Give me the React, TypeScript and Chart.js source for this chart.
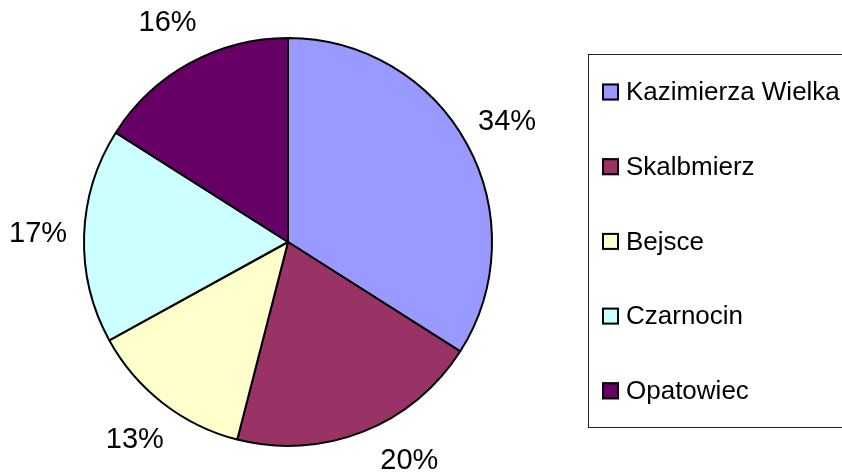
import React, { useEffect, useRef } from "react";
import { Chart, registerables } from "chart.js";

Chart.register(...registerables);

const categories = ["Kazimierza Wielka", "Skalbmierz", "Bejsce", "Czarnocin", "Opatowiec"];
const values = [34, 20, 13, 17, 16];
const colors = ["#9999FF", "#993366", "#FFFFCC", "#CCFFFF", "#660066"];

const W = 842;
const H = 473;
const FONT = "Arial, 'Liberation Sans', sans-serif";

const labelPlugin = {
  id: "outsideLabels",
  afterDatasetsDraw(chart: any) {
    const ctx = chart.ctx;
    const meta = chart.getDatasetMeta(0);
    const total = values.reduce((a, b) => a + b, 0);
    ctx.save();
    ctx.font = `29px ${FONT}`;
    ctx.fillStyle = "#000";
    ctx.textAlign = "center";
    ctx.textBaseline = "middle";
    meta.data.forEach((arc: any, i: number) => {
      const { x, y, startAngle, endAngle, outerRadius } = arc.getProps(
        ["x", "y", "startAngle", "endAngle", "outerRadius"],
        true
      );
      const text = Math.round((values[i] / total) * 100) + "%";
      const dist = outerRadius + 46;
      let a = (startAngle + endAngle) / 2;
      const halfH = 12;
      const halfW = ctx.measureText(text).width / 2;
      const fits = (ang: number) => {
        const lx = x + Math.cos(ang) * dist;
        const ly = y + Math.sin(ang) * dist;
        return ly - halfH >= 0 && ly + halfH <= chart.height && lx - halfW >= 0 && lx + halfW <= chart.width;
      };
      let guard = 0;
      while (!fits(a) && guard < 200) {
        const s = Math.sin(a);
        const c = Math.cos(a);
        const step = 0.005;
        a += s * c > 0 ? -step : step;
        guard++;
      }
      ctx.fillText(text, x + Math.cos(a) * dist, y + Math.sin(a) * dist);
    });
    ctx.restore();
  },
};

const legendPlugin = {
  id: "boxLegend",
  afterDraw(chart: any) {
    const ctx = chart.ctx;
    ctx.save();
    const left = 588.5;
    const top = 54.5;
    const bottom = 427.5;
    ctx.strokeStyle = "#222";
    ctx.lineWidth = 1;
    ctx.strokeRect(left, top, 400, bottom - top);
    ctx.font = `26px ${FONT}`;
    ctx.textBaseline = "middle";
    ctx.textAlign = "left";
    const step = 74.7;
    const first = 92;
    categories.forEach((name, i) => {
      const cy = first + i * step;
      ctx.fillStyle = colors[i];
      ctx.fillRect(602, cy - 8.5, 17, 17);
      ctx.strokeStyle = "#000";
      ctx.lineWidth = 2;
      ctx.strokeRect(603, cy - 7.5, 15, 15);
      ctx.fillStyle = "#000";
      ctx.fillText(name, 626, cy + 1);
    });
    ctx.restore();
  },
};

export default function App() {
  const ref = useRef<HTMLCanvasElement>(null);
  useEffect(() => {
    if (!ref.current) return;
    const chart = new Chart(ref.current, {
      type: "pie",
      data: {
        labels: categories,
        datasets: [
          {
            data: values,
            backgroundColor: colors,
            borderColor: "#000",
            borderWidth: 2,
          },
        ],
      },
      options: {
        responsive: false,
        animation: false,
        layout: { padding: { left: 83, top: 37, right: 349, bottom: 26 } },
        plugins: {
          legend: { display: false },
          tooltip: { enabled: false },
        },
      },
      plugins: [labelPlugin, legendPlugin],
    });
    return () => chart.destroy();
  }, []);
  return (
    <div style={{ position: "fixed", left: 0, top: 0, width: W, height: H, background: "#fff" }}>
      <canvas ref={ref} width={W} height={H} style={{ width: W, height: H }} />
    </div>
  );
}
